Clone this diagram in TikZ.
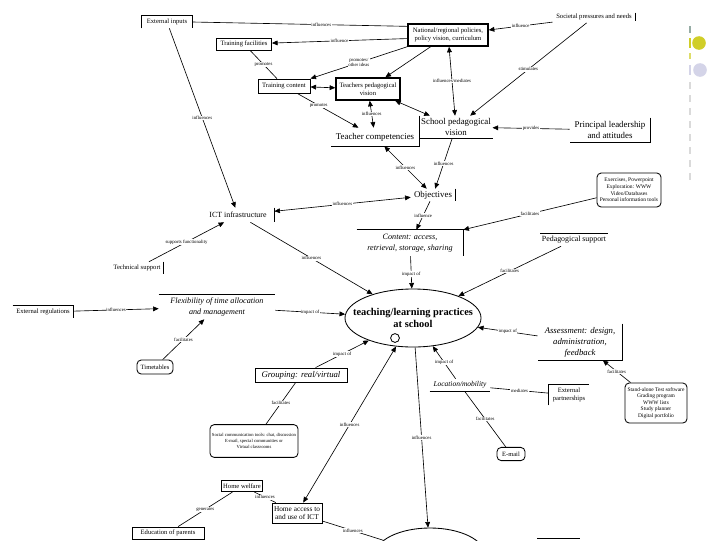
\documentclass[tikz,border=0pt]{standalone}
\usepackage{fontspec}
\setmainfont{Liberation Serif}
\usepackage{tikz}
\usetikzlibrary{arrows.meta,shapes.geometric}
\definecolor{decoteal}{RGB}{150,172,165}
\definecolor{decoyellow}{RGB}{208,206,40}
\definecolor{decolav}{RGB}{212,212,232}
\definecolor{decogrey}{RGB}{218,218,218}
\tikzset{
 concept/.style={inner sep=1pt, align=center, font=\fontsize{6.3}{7.4}\selectfont},
 midtext/.style={concept, font=\fontsize{5.6}{6.6}\selectfont},
 smalltext/.style={concept, font=\fontsize{4.7}{5.8}\selectfont},
 itext/.style={concept, font=\fontsize{5.8}{7.6}\selectfont\itshape},
 boxed/.style={draw, line width=0.6pt},
 heavybox/.style={draw, line width=1pt},
 toolbox/.style={draw, rounded corners=3pt, line width=0.6pt, align=center,
  inner sep=1pt, font=\fontsize{3.9}{4.7}\selectfont},
 frame/.style={line width=0.6pt},
 lbl/.style={font=\fontsize{3.4}{3.9}\selectfont, fill=white, inner sep=0.4pt},
 link/.style={draw, line width=0.45pt},
 arr/.style={link, -{Triangle[length=4pt,width=3.4pt]}},
 both/.style={link, {Triangle[length=4pt,width=3.4pt]}-{Triangle[length=4pt,width=3.4pt]}}
}
\begin{document}
\begin{tikzpicture}[x=0.025cm, y=-0.025cm]
 \clip (0,0) rectangle (720,540);
 \fill[white] (0,0) rectangle (720,540);

 % side decoration
 \fill[decoteal] (689,26) rectangle (691,33);
 \fill[decoyellow] (689,38) rectangle (691,48);
 \fill[decoyellow] (699,43) circle[radius=0.17cm];
 \fill[decoyellow!70] (689,53) rectangle (691,59);
 \fill[decolav] (689,65) rectangle (691,75);
 \fill[decolav] (700,70) circle[radius=0.17cm];
 \foreach \y in {82,95,...,175}
  \fill[decogrey] (689,\y) rectangle (691,\y+7);

 % concepts, top part
 \node[smalltext, minimum width=1.25cm, minimum height=0.3cm] (extinput) at (167,22) {External inputs};
 \node[smalltext, boxed, minimum width=1.375cm, minimum height=0.3cm] (trainfac) at (244,44) {Training facilities};
 \node[smalltext, heavybox, minimum width=2cm, minimum height=0.55cm] (natpol) at (448,35) {National/regional policies,\\policy vision, curriculum};
 \node[smalltext, minimum width=2.05cm, minimum height=0.28cm] (societal) at (594,17) {Societal pressures and needs};
 \node[smalltext, boxed, minimum width=1.3cm, minimum height=0.35cm] (traincont) at (284,86) {Training content};
 \node[smalltext, heavybox, minimum width=1.6cm, minimum height=0.55cm] (teachvis) at (368,89) {Teachers pedagogical\\vision};
 \node[concept, minimum width=1.8cm, minimum height=0.55cm] (schoolvis) at (456,127) {School pedagogical\\vision};
 \node[concept, minimum width=2cm, minimum height=0.6cm] (principal) at (610,130) {Principal leadership\\and attitudes};
 \node[concept, minimum width=2.2cm, minimum height=0.45cm] (teachcomp) at (375,137) {Teacher competencies};
 \node[concept, minimum width=1.1cm, minimum height=0.3cm] (objectives) at (433,195) {Objectives};
 \node[midtext, minimum width=1.8cm, minimum height=0.35cm] (ict) at (238,215) {ICT infrastructure};
 \node[itext, minimum width=2.65cm, minimum height=0.65cm] (content) at (410,243) {Content: access,\\retrieval, storage, sharing};
 \node[toolbox, minimum width=1.6cm, minimum height=0.85cm] (exercises) at (629,190) {Exercises, Powerpoint\\Exploration: WWW\\Video/Databases\\Personal information tools};
 \node[midtext, minimum width=1.55cm, minimum height=0.3cm] (pedsup) at (574,240) {Pedagogical support};
 \node[smalltext, minimum width=1.3cm, minimum height=0.3cm] (techsup) at (137,268) {Technical support};

 % concepts, middle part
 \node[smalltext, minimum width=1.5cm, minimum height=0.3cm] (extreg) at (43,312) {External regulations};
 \node[itext, minimum width=2.9cm, minimum height=0.6cm] (flex) at (217,307) {Flexibility of time allocation\\and management};
 \node[ellipse, draw, line width=0.6pt, minimum width=3.4cm, minimum height=1.45cm,
  inner xsep=-14pt, inner ysep=0pt, align=center,
  font=\fontsize{7.4}{8.6}\selectfont\bfseries] (practices) at (413,318) {teaching/learning practices\\at school};
 \node[itext, font=\fontsize{6.2}{7.8}\selectfont\itshape, minimum width=2.1cm, minimum height=0.9cm] (assessment) at (580,342) {Assessment: design,\\administration,\\feedback};
 \node[toolbox, font=\fontsize{4.6}{5.4}\selectfont, minimum width=0.9cm, minimum height=0.35cm] (timetab) at (155,367) {Timetables};
 \node[itext, font=\fontsize{6.2}{7.4}\selectfont\itshape, boxed, minimum width=2.3cm, minimum height=0.35cm] (grouping) at (301,375) {Grouping: real/virtual};
 \node[itext, font=\fontsize{5.3}{6.2}\selectfont\itshape, minimum width=1.5cm, minimum height=0.3cm] (location) at (460,385) {Location/mobility};
 \node[smalltext, minimum width=1cm, minimum height=0.5cm] (extpart) at (569,395) {External\\partnerships};
 \node[toolbox, minimum width=1.55cm, minimum height=1cm] (standalone) at (656,403) {Stand-alone Test software\\Grading program\\WWW lists\\Study planner\\Digital portfolio};

 % concepts, bottom part
 \node[toolbox, font=\fontsize{3.3}{4.3}\selectfont, minimum width=2.2cm, minimum height=0.82cm] (social) at (254,441) {Social communication tools: chat, discussion\\E-mail, special communities or\\Virtual classrooms};
 \node[toolbox, font=\fontsize{4.6}{5.4}\selectfont, minimum width=0.7cm, minimum height=0.33cm] (email) at (511,454) {E-mail};
 \node[smalltext, boxed, minimum width=0.9cm, minimum height=0.28cm] (homewel) at (242,486) {Home welfare};
 \node[midtext, font=\fontsize{5.2}{6.2}\selectfont, boxed, minimum width=1.25cm, minimum height=0.5cm] (homeacc) at (297,513) {Home access to\\and use of ICT};
 \node[smalltext, boxed, minimum width=1.8cm, minimum height=0.3cm] (eduparents) at (168,533) {Education of parents};
 \node[ellipse, draw, line width=0.6pt, minimum width=2.75cm, minimum height=1.35cm] (outcome) at (430,555) {};

 % partial frames
 \draw[frame] (extinput.south west) -- (extinput.north west) -- (extinput.north east) -- (extinput.south east);
 \draw[frame] ([yshift=-1pt]societal.north east) -- ([yshift=1pt]societal.south east);
 \draw[frame] (schoolvis.north west) -- (schoolvis.south west) -- (schoolvis.south east);
 \draw[frame] (principal.north east) -- (principal.south east) -- (principal.south west);
 \draw[frame] (teachcomp.north east) -- (teachcomp.south east) -- (teachcomp.south west);
 \draw[frame] (objectives.north east) -- (objectives.south east);
 \draw[frame] (ict.north east) -- (ict.south east);
 \draw[frame] (content.north west) -- (content.north east) -- (content.south east);
 \draw[frame] (pedsup.north west) -- (pedsup.north east);
 \draw[frame] (techsup.north east) -- (techsup.south east);
 \draw[frame] (extreg.north west) -- (extreg.north east) -- (extreg.south east);
 \draw[frame] (flex.north west) -- (flex.north east);
 \draw[frame] (assessment.north east) -- (assessment.south east) -- (assessment.south west);
 \draw[frame] (location.south west) -- (location.south east);
 \draw[frame] (extpart.south west) -- (extpart.north west) -- (extpart.north east);
 \draw[frame] (395,338) circle[radius=0.11cm];
 \draw[frame] (537,538) -- (580,538);

 % links, top part
 \draw[link] (extinput.east) -- node[lbl, pos=0.6] {influences} (natpol.168);
 \draw[arr] (natpol.185) -- node[lbl] {influence} (trainfac);
 \draw[arr] (natpol.south west) -- node[lbl, align=center] {promotes/\\other ideas} (traincont.north east);
 \draw[arr] (natpol) -- (teachvis);
 \draw[link] (trainfac) -- node[lbl] {promotes} (traincont);
 \draw[both] (traincont) -- (teachvis);
 \draw[arr] (traincont) -- node[lbl, pos=0.35] {promotes} (teachcomp);
 \draw[both] (teachvis) -- node[lbl] {influences} (teachcomp);
 \draw[both] (teachvis) -- (schoolvis);
 \draw[both] (schoolvis) -- node[lbl] {influences/mediates} (natpol);
 \draw[arr] (societal) -- node[lbl] {influence} (natpol);
 \draw[arr] (societal) -- node[lbl] {stimulates} (schoolvis);
 \draw[arr] (principal) -- node[lbl] {provides} (schoolvis);
 \draw[both] (teachcomp) -- node[lbl] {influences} (objectives);
 \draw[arr] (schoolvis) -- node[lbl] {influences} (objectives);
 \draw[both] (objectives) -- node[lbl] {influences} (ict);
 \draw[arr] (extinput) -- node[lbl] {influences} (ict);
 \draw[arr] (objectives) -- node[lbl] {influence} (content);
 \draw[arr] (exercises) -- node[lbl] {facilitates} (content.north east);
 \draw[arr] (techsup) -- node[lbl] {supports functionality} (ict);

 % links into the practices
 \draw[arr] (ict) -- node[lbl] {influences} (practices);
 \draw[arr] (content) -- node[lbl, pos=0.55] {impact of} (practices);
 \draw[arr] (pedsup) -- node[lbl] {facilitates} (practices);
 \draw[arr] (extreg) -- node[lbl] {influences} (flex);
 \draw[arr] (flex) -- node[lbl] {impact of} (practices);
 \draw[arr] (timetab) -- node[lbl] {facilitates} (flex);
 \draw[arr] (assessment) -- node[lbl] {impact of} (practices);
 \draw[arr] (grouping) -- node[lbl] {impact of} (practices);
 \draw[arr] (location) -- node[lbl] {impact of} (practices);
 \draw[arr] (standalone) -- node[lbl] {facilitates} (assessment);

 % links, bottom part
 \draw[link] (grouping) -- node[lbl] {facilitates} (social);
 \draw[link] (location) -- node[lbl] {mediates} (extpart);
 \draw[link] (location) -- node[lbl] {facilitates} (email);
 \draw[both] (practices) -- node[lbl] {influences} (homeacc);
 \draw[arr] (practices) -- node[lbl] {influences} (outcome);
 \draw[link] (homewel) -- node[lbl] {generates} (eduparents);
 \draw[link] (homewel) -- node[lbl] {influences} (homeacc);
 \draw[link] (homeacc) -- node[lbl] {influences} (outcome);
\end{tikzpicture}
\end{document}
